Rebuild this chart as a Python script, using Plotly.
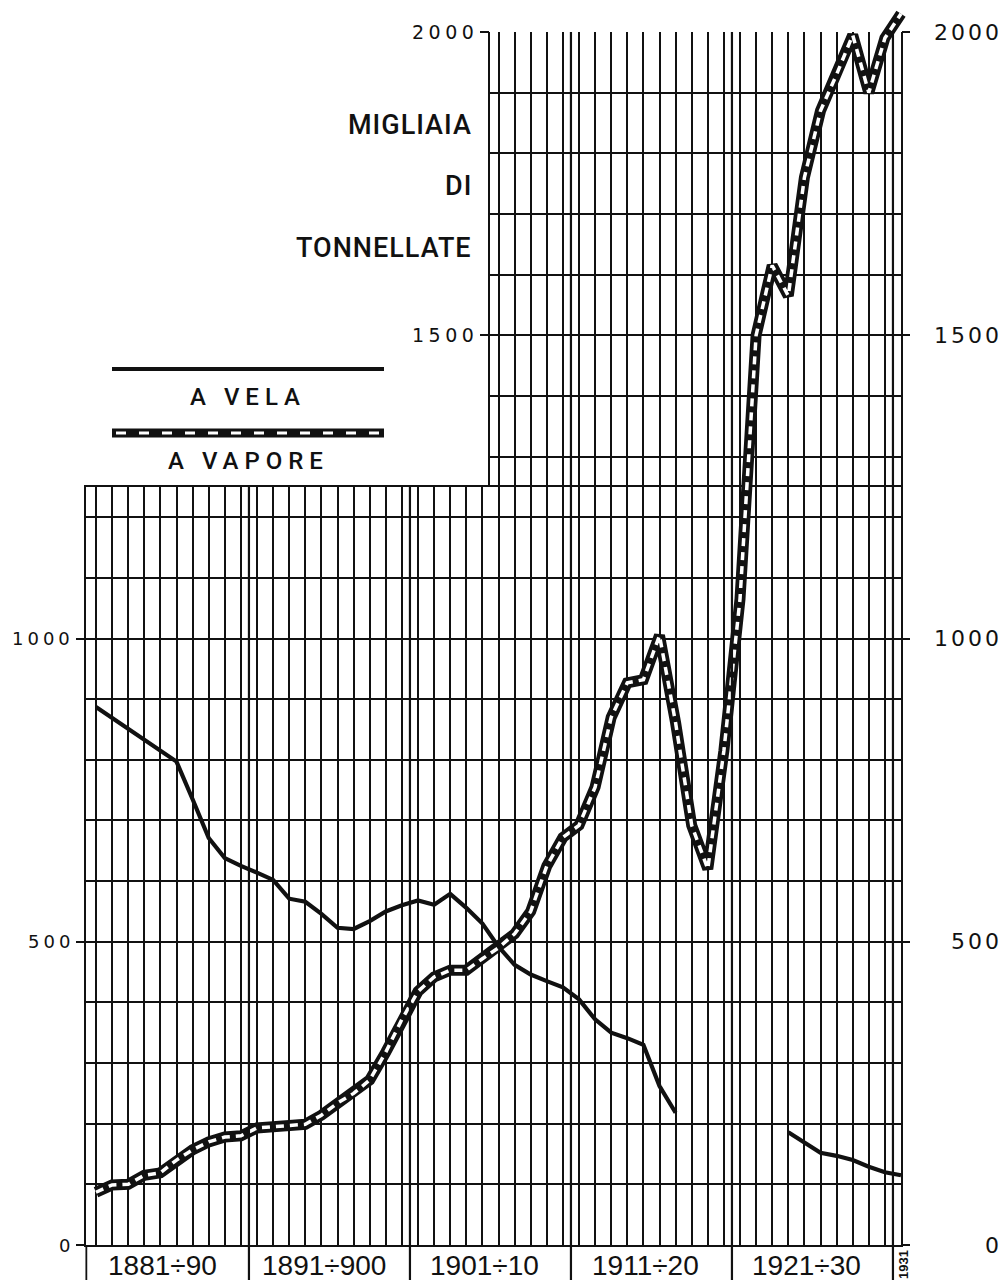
import plotly.graph_objects as go

# Italian merchant fleet, thousands of tons, 1881-1931
years = list(range(1881, 1932))

# sailing ships (no record drawn for 1918-1923)
vela = [887, 869, 851, 833, 815, 797, 735, 671, 638, 625,      # 1881-1890
        614, 602, 571, 566, 546, 523, 521, 534, 550, 560,      # 1891-1900
        568, 561, 579, 556, 530, 492, 462, 446, 435, 425,      # 1901-1910
        405, 372, 350, 341, 330, 262, 218, None, None, None,   # 1911-1920
        None, None, None, 186, 168, 152, 147, 140, 129, 120,   # 1921-1930
        115]                                                   # 1931

# steamships
vapore = [87, 99, 100, 115, 119, 140, 157, 170, 178, 180,        # 1881-1890
          193, 195, 198, 199, 214, 234, 250, 272, 318, 372,      # 1891-1900
          418, 442, 453, 453, 472, 490, 513, 550, 625, 672,      # 1901-1910
          692, 755, 870, 927, 932, 1005, 861, 692, 620, 815,     # 1911-1920
          1065, 1500, 1615, 1565, 1760, 1870, 1930, 1995, 1900, 1990,  # 1921-1930
          2030]                                                  # 1931

left_ticks = [0, 500, 1000]
upper_ticks = [1500, 2000]
right_ticks = [0, 500, 1000, 1500, 2000]
decade_starts = [1881, 1891, 1901, 1911, 1921]
decade_labels = ["1881÷90", "1891÷900", "1901÷10", "1911÷20", "1921÷30"]
title_lines = ["MIGLIAIA", "DI", "TONNELLATE"]
legend_labels = ["A VELA", "A VAPORE"]

# ---- sheet geometry (pixels) ----
W, H = 1007, 1287
X_1881 = 96.0        # x pixel of year 1881
PX_YEAR = 16.1       # pixels per year
Y_ZERO = 1245.0      # y pixel of value 0
PX_UNIT = 0.6065     # pixels per thousand tons

LOW_LEFT, SPLIT_YEAR, LAST = 1880.4, 1905.5, 1931.0
LOW_TOP, TOP = 1250, 2000
BOTTOM_PX = 1280


def year_px(yr):
    return X_1881 + (yr - 1881) * PX_YEAR


def val_px(v):
    return Y_ZERO - v * PX_UNIT


def px_year(px):
    return 1881 + (px - X_1881) / PX_YEAR


def px_val(py):
    return (Y_ZERO - py) / PX_UNIT


def fx(px):
    return px / W


def fy(py):
    return 1 - py / H


ink = "#111111"
num_font = "DejaVu Sans"
label_font = "Liberation Sans"
caps_font = "Roboto"

grid_common = dict(showgrid=True, gridcolor=ink, gridwidth=1.5, zeroline=False,
                   showline=True, mirror=True, linecolor=ink, linewidth=1.5,
                   fixedrange=True)
minor_grid = dict(dtick=100, tick0=0, showgrid=True, gridcolor=ink, gridwidth=1.5)

fig = go.Figure()

# empty traces so both grid panels are laid out
fig.add_trace(go.Scatter(x=[], y=[], xaxis="x", yaxis="y", hoverinfo="skip", showlegend=False))
fig.add_trace(go.Scatter(x=[], y=[], xaxis="x2", yaxis="y2", hoverinfo="skip", showlegend=False))

# sailing tonnage
fig.add_trace(go.Scatter(x=years, y=vela, xaxis="x3", yaxis="y3", mode="lines",
                         line=dict(color=ink, width=4.2), connectgaps=False,
                         hoverinfo="skip", showlegend=False))
# steam tonnage: black band with white dashes inside
fig.add_trace(go.Scatter(x=years, y=vapore, xaxis="x3", yaxis="y3", mode="lines",
                         line=dict(color=ink, width=11), hoverinfo="skip",
                         showlegend=False))
fig.add_trace(go.Scatter(x=years, y=vapore, xaxis="x3", yaxis="y3", mode="lines",
                         line=dict(color="white", width=3.5, dash="8px,6px"),
                         hoverinfo="skip", showlegend=False))

shapes = []
# decade separators, running below the base line
for b in [s + 9.5 for s in decade_starts]:
    top = LOW_TOP if b < SPLIT_YEAR else TOP
    shapes.append(dict(type="line", xref="x3", yref="y3", x0=b, x1=b,
                       y0=px_val(BOTTOM_PX), y1=top, line=dict(color=ink, width=2.2)))
# left border extension
shapes.append(dict(type="line", xref="x3", yref="y3", x0=LOW_LEFT, x1=LOW_LEFT,
                   y0=px_val(BOTTOM_PX), y1=0, line=dict(color=ink, width=1.8)))

# legend keys
LEG_X0, LEG_X1 = 112, 384
shapes.append(dict(type="line", xref="paper", yref="paper", x0=fx(LEG_X0), x1=fx(LEG_X1),
                   y0=fy(369), y1=fy(369), line=dict(color=ink, width=4)))
shapes.append(dict(type="line", xref="paper", yref="paper", x0=fx(LEG_X0), x1=fx(LEG_X1),
                   y0=fy(433), y1=fy(433), line=dict(color=ink, width=9)))
shapes.append(dict(type="line", xref="paper", yref="paper", x0=fx(LEG_X0 + 4), x1=fx(LEG_X1 - 4),
                   y0=fy(433), y1=fy(433), line=dict(color="white", width=3, dash="10px,13px")))

ann = []


def spaced(text, px):
    return f'<span style="letter-spacing:{px}px">{text}</span>'


for v in left_ticks:
    ann.append(dict(xref="paper", yref="y3", x=fx(76), y=v, xanchor="right", yanchor="middle",
                    text=spaced(v, 4), showarrow=False,
                    font=dict(family=num_font, size=18, color=ink)))
for v in upper_ticks:
    ann.append(dict(xref="paper", yref="y3", x=fx(480), y=v, xanchor="right", yanchor="middle",
                    text=spaced(v, 4.5), showarrow=False,
                    font=dict(family=num_font, size=19, color=ink)))
for v in right_ticks:
    ann.append(dict(xref="paper", yref="y3", x=fx(1004), y=v, xanchor="right", yanchor="middle",
                    text=spaced(v, 3), showarrow=False,
                    font=dict(family=num_font, size=22, color=ink, weight=500)))
for s, lab in zip(decade_starts, decade_labels):
    ann.append(dict(xref="x3", yref="paper", x=s + 4.15, y=fy(1265), xanchor="center",
                    yanchor="middle", text=lab, showarrow=False,
                    font=dict(family=label_font, size=28, color=ink)))
ann.append(dict(xref="paper", yref="paper", x=fx(903), y=fy(1265), xanchor="center",
                yanchor="middle", text=str(years[-1]), textangle=-90, showarrow=False,
                font=dict(family=label_font, size=13, color=ink, weight="bold")))
for t, py in zip(title_lines, [125, 186, 248]):
    ann.append(dict(xref="paper", yref="paper", x=fx(474), y=fy(py), xanchor="right",
                    yanchor="middle", text=spaced(t, 1), showarrow=False,
                    font=dict(family=caps_font, size=27, color=ink, weight=500)))
for t, py in zip(legend_labels, [397, 461]):
    ann.append(dict(xref="paper", yref="paper", x=fx(248), y=fy(py), xanchor="center",
                    yanchor="middle", text=spaced(t, 6), showarrow=False,
                    font=dict(family=caps_font, size=24, color=ink, weight=500)))

upper_x = dict(grid_common, showline=False)

fig.update_layout(
    width=W, height=H,
    margin=dict(l=0, r=0, t=0, b=0),
    paper_bgcolor="white", plot_bgcolor="rgba(0,0,0,0)",
    showlegend=False,
    # lower grid: 1881-1931, 0-1250
    xaxis=dict(domain=[fx(year_px(LOW_LEFT)), fx(year_px(LAST))], range=[LOW_LEFT, LAST],
               anchor="y", tick0=1881, dtick=1, ticks="", showticklabels=False, **grid_common),
    yaxis=dict(domain=[fy(val_px(0)), fy(val_px(LOW_TOP))], range=[0, LOW_TOP], anchor="x",
               tickmode="array", tickvals=left_ticks, ticks="outside", ticklen=9,
               tickwidth=1.6, tickcolor=ink, showticklabels=False, minor=minor_grid,
               **grid_common),
    # upper grid: 1906-1931, 1250-2000
    xaxis2=dict(domain=[fx(year_px(SPLIT_YEAR)), fx(year_px(LAST))], range=[SPLIT_YEAR, LAST],
                anchor="y2", tick0=1881, dtick=1, ticks="", showticklabels=False, **upper_x),
    yaxis2=dict(domain=[fy(val_px(LOW_TOP)), fy(val_px(TOP))], range=[LOW_TOP, TOP], anchor="x2",
                tickmode="array", tickvals=upper_ticks, ticks="outside", ticklen=9,
                tickwidth=1.6, tickcolor=ink, showticklabels=False, minor=minor_grid,
                **grid_common),
    # data layer spanning the whole sheet
    xaxis3=dict(domain=[0, 1], range=[px_year(0), px_year(W)], anchor="y3", visible=False,
                fixedrange=True),
    yaxis3=dict(domain=[0, 1], range=[px_val(H), px_val(0)], anchor="free",
                position=fx(year_px(LAST)), side="right", tickmode="array",
                tickvals=right_ticks, ticks="outside", ticklen=8, tickwidth=1.6,
                tickcolor=ink, showticklabels=False, showgrid=False, showline=False,
                zeroline=False, fixedrange=True),
    shapes=shapes,
    annotations=ann,
)

fig.write_html("out.html")
